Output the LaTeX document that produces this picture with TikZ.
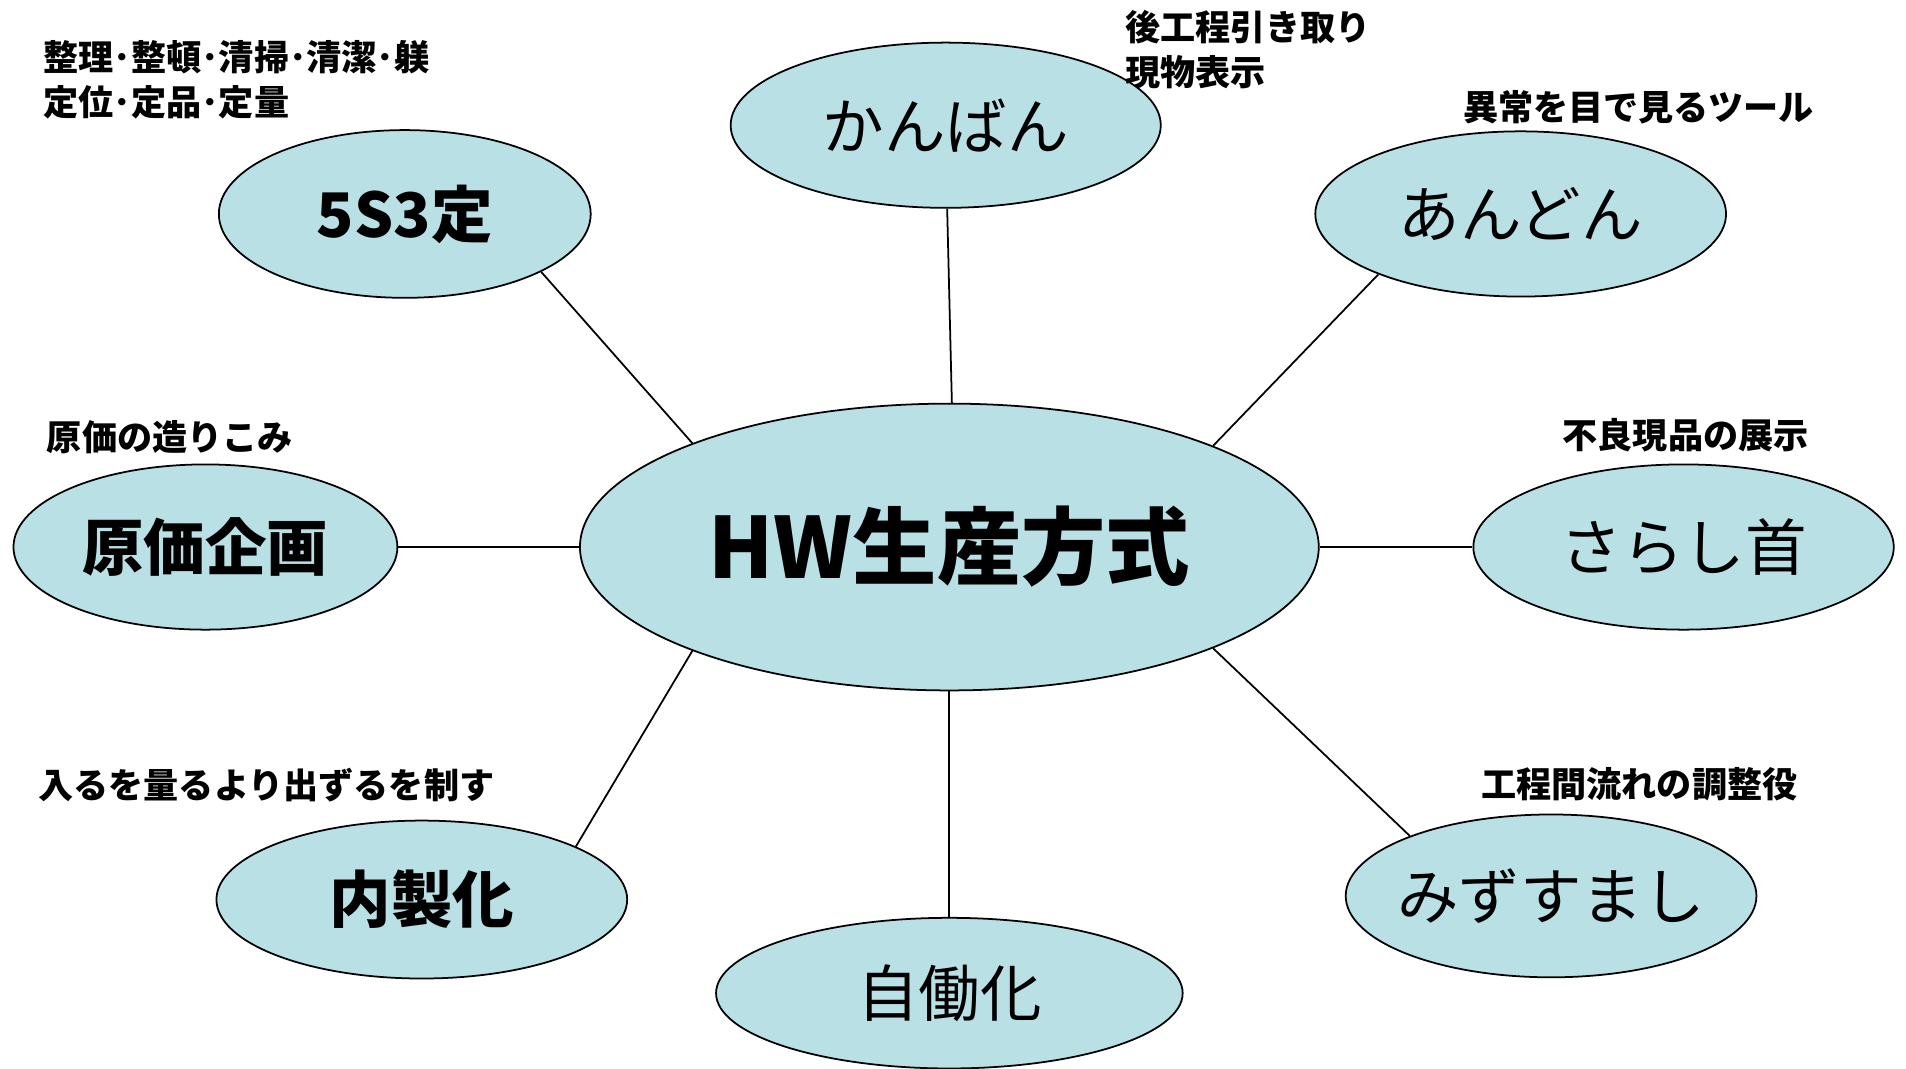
\documentclass[tikz,border=0pt]{standalone}
\usepackage{fontspec}
\setmainfont{Noto Sans CJK JP}
\usetikzlibrary{shapes.geometric}
\definecolor{bubblefill}{RGB}{185,224,228}
\tikzset{
  bubble/.style={ellipse, draw=black, line width=0.5pt, fill=bubblefill, inner sep=0pt,
    font=\fontsize{17.5}{20}\selectfont},
  hub/.style={bubble, font=\bfseries\fontsize{24}{28}\selectfont},
  note/.style={anchor=west, inner sep=0pt, align=left, font=\bfseries\fontsize{10}{12.8}\selectfont},
  link/.style={line width=0.5pt, draw=black}
}
\begin{document}
\begin{tikzpicture}[x=0.012156cm, y=-0.012156cm]
\useasboundingbox (0,0) rectangle (1568,879);
% hub
\node[hub, minimum width=7.391cm, minimum height=2.869cm] (hw) at (781,450) {\makebox[0pt]{HW生産方式}};
% satellites
\node[bubble, font=\bfseries\fontsize{17.5}{20}\selectfont, minimum width=3.720cm, minimum height=1.678cm] (s53) at (333,176) {\makebox[0pt]{5S3定}};
\node[bubble, minimum width=4.303cm, minimum height=1.653cm] (kanban) at (778,103) {\makebox[0pt]{かんばん}};
\node[bubble, minimum width=4.109cm, minimum height=1.653cm] (andon) at (1251,176) {\makebox[0pt]{あんどん}};
\node[bubble, font=\bfseries\fontsize{17.5}{20}\selectfont, minimum width=3.841cm, minimum height=1.653cm] (genka) at (169,450) {\makebox[0pt]{原価企画}};
\node[bubble, minimum width=4.206cm, minimum height=1.653cm] (sarashi) at (1385,450) {\makebox[0pt]{さらし首}};
\node[bubble, font=\bfseries\fontsize{17.5}{20}\selectfont, minimum width=4.109cm, minimum height=1.580cm] (naisei) at (347,740) {\makebox[0pt]{内製化}};
\node[bubble, minimum width=4.668cm, minimum height=1.507cm] (jidoka) at (781,817) {\makebox[0pt]{自働化}};
\node[bubble, minimum width=4.109cm, minimum height=1.629cm] (mizu) at (1276,737) {\makebox[0pt]{みずすまし}};
% annotations
\node[note] (n53) at (35,65.5) {整理･整頓･清掃･清潔･躾\\定位･定品･定量};
\node[note] (nkan) at (925,40.5) {後工程引き取り\\現物表示};
\node[note] (nand) at (1203,88) {異常を目で見るツール};
\node[note] (ngen) at (38,360) {原価の造りこみ};
\node[note] (nsar) at (1285,358) {不良現品の展示};
\node[note] (nnai) at (31,646) {入るを量るより出ずるを制す};
\node[note] (nmiz) at (1218,645) {工程間流れの調整役};
% connectors
\draw[link] (s53.-23.4) -- (hw.158.4);
\draw[link] (kanban.-89.2) -- (hw.89.5);
\draw[link] (andon.-157.2) -- (hw.21.2);
\draw[link] (genka.east) -- (hw.west);
\draw[link] (sarashi.west) -- (hw.east);
\draw[link] (naisei.19.3) -- (hw.-158.6);
\draw[link] (jidoka.north) -- (hw.south);
\draw[link] (mizu.157.6) -- (hw.-21.2);
\end{tikzpicture}
\end{document}
